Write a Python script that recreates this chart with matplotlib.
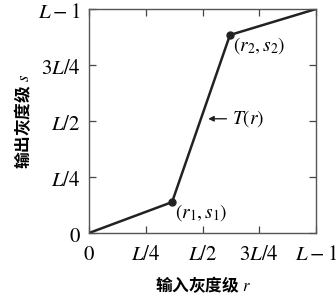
import matplotlib
matplotlib.use('Agg')
import matplotlib.pyplot as plt

plt.rcParams['mathtext.fontset'] = 'stix'
plt.rcParams['font.family'] = ['Noto Sans CJK SC', 'DejaVu Sans']

# transformation curve T(r), fractions of L-1
r_pts = [0.0, 0.366, 0.621, 1.0]
s_pts = [0.0, 0.138, 0.884, 1.0]
tick_pos = [0, 0.25, 0.5, 0.75, 1.0]
xtick_labels = [r'$0$', r'$L/4$', r'$L/2$', r'$3L/4$', r'$L-1$']
ytick_labels = [r'$0$', r'$L/4$', r'$L/2$', r'$3L/4$', r'$L-1$']

fig = plt.figure(figsize=(3.36, 2.96), dpi=100)
ax = fig.add_axes([89/336, 1-233/296, 227/336, 224/296])

ax.plot(r_pts, s_pts, color='#222222', lw=1.8, solid_capstyle='round')
ax.plot([r_pts[1], r_pts[2]], [s_pts[1], s_pts[2]], 'o', color='#222222', ms=5)

ax.set_xlim(0, 1)
ax.set_ylim(0, 1)
ax.set_xticks(tick_pos)
ax.set_yticks(tick_pos)
ax.set_xticklabels(xtick_labels, fontsize=15)
ax.set_yticklabels(ytick_labels, fontsize=15)
ax.tick_params(direction='in', length=5, width=0.9, color='#444444',
               top=True, right=True)
ax.tick_params(axis='x', pad=7)
ax.tick_params(axis='y', pad=6)
for sp in ax.spines.values():
    sp.set_color('#555555')
    sp.set_linewidth(1.0)

ax.text(r_pts[1] + 0.015, s_pts[1], r'$(r_1,s_1)$', fontsize=14,
        va='top', ha='left')
ax.text(r_pts[2] + 0.015, s_pts[2], r'$(r_2,s_2)$', fontsize=14,
        va='top', ha='left')
ax.annotate(r'$T(r)$', xy=(0.525, 0.51), xytext=(0.63, 0.51),
            fontsize=14, va='center', ha='left',
            arrowprops=dict(arrowstyle='-|>', color='#222222', lw=1.0,
                            shrinkA=2, shrinkB=0, mutation_scale=8))

ax.set_xlabel('输入灰度级 ' + r'$r$', fontsize=12, fontweight='bold', labelpad=7)
ax.set_ylabel('输出灰度级 ' + r'$s$', fontsize=12, fontweight='bold', labelpad=4)

fig.savefig('out.png', dpi=100)
